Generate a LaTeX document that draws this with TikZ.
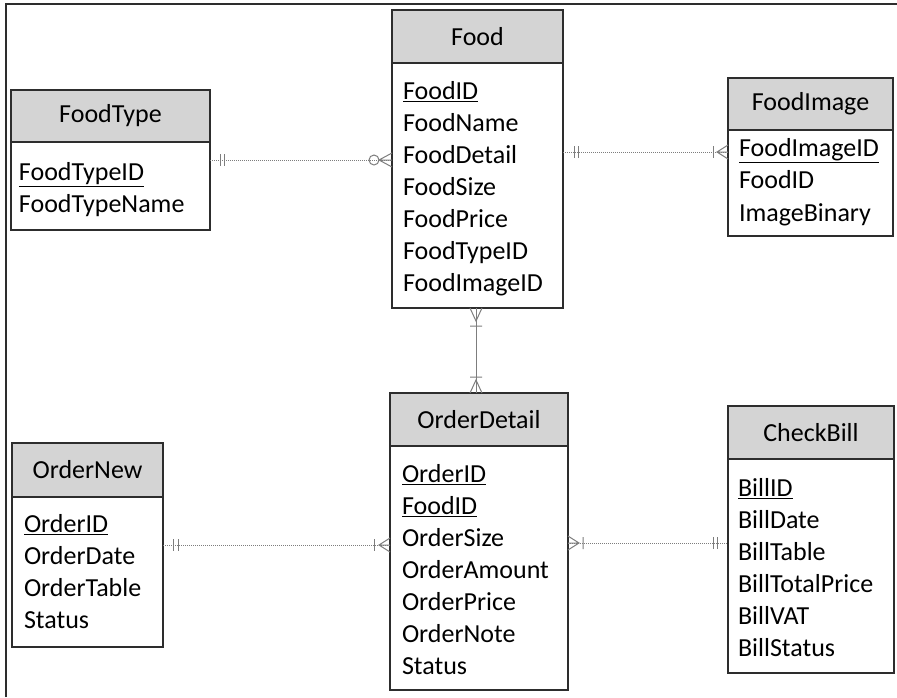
\documentclass[tikz,border=0pt]{standalone}
\usepackage{fontspec}
\setmainfont{Carlito}
\usetikzlibrary{positioning}
\definecolor{headgray}{RGB}{212,212,212}
\definecolor{boxline}{RGB}{45,45,45}
\definecolor{relgray}{RGB}{125,125,125}
\begin{document}
\begin{tikzpicture}
[x=1pt,y=-1pt,
 every node/.style={font=\fontsize{26}{31}\selectfont, outer sep=0pt},
 head/.style={draw=boxline, line width=2pt, fill=headgray, anchor=north west, inner sep=0pt, minimum height=53pt},
 body/.style={draw=boxline, line width=2pt, fill=white, inner sep=0pt, below=0pt of #1},
 row/.style={anchor=base west, inner sep=0pt},
 rel/.style={relgray, line width=1pt, densely dotted},
 relmark/.style={relgray, line width=1pt}]
\useasboundingbox (0,0) rectangle (897,697);
\draw[boxline, line width=1.5pt] (6,697) -- (6,4) -- (897,4);

% entities
\node[head, minimum width=171pt] (food) at (392,10) {Food};
\node[body=food, minimum width=171pt, minimum height=245pt] (foodbody) {};
\foreach \t [count=\i] in {\underline{FoodID},FoodName,FoodDetail,FoodSize,FoodPrice,FoodTypeID,FoodImageID}
  \node[row] (food\i) at ([shift={(11,{36.5+32*(\i-1)})}]foodbody.north west) {\t};

\node[head, minimum width=199pt, minimum height=52pt] (foodtype) at (11,90) {FoodType};
\node[body=foodtype, minimum width=199pt, minimum height=88pt] (foodtypebody) {};
\foreach \t [count=\i] in {\underline{FoodTypeID},FoodTypeName}
  \node[row] (foodtype\i) at ([shift={(8,{38.5+32*(\i-1)})}]foodtypebody.north west) {\t};

\node[head, minimum width=165pt, minimum height=52pt] (foodimage) at (728,78) {FoodImage};
\node[body=foodimage, minimum width=165pt, minimum height=106pt] (foodimagebody) {};
\foreach \t [count=\i] in {\underline{FoodImageID},FoodID,ImageBinary}
  \node[row] (foodimage\i) at ([shift={(11,{26+32.5*(\i-1)})}]foodimagebody.north west) {\t};

\node[head, minimum width=178pt] (orderdetail) at (390,393) {OrderDetail};
\node[body=orderdetail, minimum width=178pt, minimum height=244pt] (orderdetailbody) {};
\foreach \t [count=\i] in {\underline{OrderID},\underline{FoodID},OrderSize,OrderAmount,OrderPrice,OrderNote,Status}
  \node[row] (orderdetail\i) at ([shift={(12,{36.5+32*(\i-1)})}]orderdetailbody.north west) {\t};

\node[head, minimum width=151pt, minimum height=54pt] (ordernew) at (12,443) {OrderNew};
\node[body=ordernew, minimum width=151pt, minimum height=150pt] (ordernewbody) {};
\foreach \t [count=\i] in {\underline{OrderID},OrderDate,OrderTable,Status}
  \node[row] (ordernew\i) at ([shift={(12,{35.5+32*(\i-1)})}]ordernewbody.north west) {\t};

\node[head, minimum width=166pt] (checkbill) at (728,406) {CheckBill};
\node[body=checkbill, minimum width=166pt, minimum height=214pt] (checkbillbody) {};
\foreach \t [count=\i] in {\underline{BillID},BillDate,BillTable,BillTotalPrice,BillVAT,BillStatus}
  \node[row] (checkbill\i) at ([shift={(10,{37.5+32*(\i-1)})}]checkbillbody.north west) {\t};

% relations
\coordinate (r1) at (0,160);
\draw[rel] (foodtypebody.east |- r1) -- (foodbody.west |- r1);
\draw[relmark] (220,154) -- (220,166) (224,154) -- (224,166);
\draw[relmark] (374,160) circle (5pt);
\draw[relmark] (392,153) -- (379,160) -- (392,167) (379,160) -- (392,160);

\coordinate (r2) at (0,152);
\draw[rel] (foodbody.east |- r2) -- (foodimagebody.west |- r2);
\draw[relmark] (574,146) -- (574,158) (578,146) -- (578,158);
\draw[relmark] (713,146) -- (713,158);
\draw[relmark] (728,145) -- (717,152) -- (728,159) (717,152) -- (728,152);

\coordinate (r3) at (476,0);
\draw[relmark] (foodbody.south -| r3) -- (orderdetail.north -| r3);
\draw[relmark] (470,308) -- (476,321) -- (482,308) (470,326) -- (482,326);
\draw[relmark] (470,377) -- (482,377) (470,393) -- (476,380) -- (482,393);

\coordinate (r4) at (0,545);
\draw[rel] (ordernewbody.east |- r4) -- (orderdetailbody.west |- r4);
\draw[relmark] (173,539) -- (173,551) (178,539) -- (178,551);
\draw[relmark] (374,539) -- (374,551);
\draw[relmark] (390,538) -- (379,545) -- (390,552) (379,545) -- (390,545);

\coordinate (r5) at (0,543);
\draw[rel] (orderdetailbody.east |- r5) -- (checkbillbody.west |- r5);
\draw[relmark] (568,536) -- (579,543) -- (568,550) (568,543) -- (579,543) (583,537) -- (583,549);
\draw[relmark] (713,537) -- (713,549) (717,537) -- (717,549);
\end{tikzpicture}
\end{document}
